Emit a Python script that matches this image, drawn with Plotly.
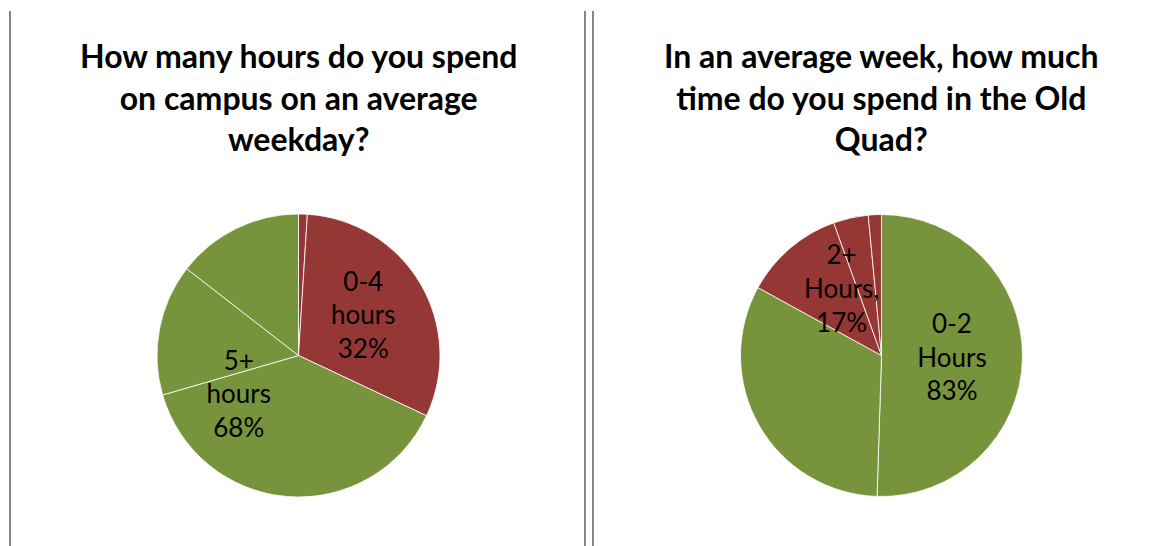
import math
import plotly.graph_objects as go

# Left chart: hours on campus (slices clockwise from top)
left_slice_values = [1, 31, 38.5, 15, 14.5]
left_slice_groups = ["0-4", "0-4", "5+", "5+", "5+"]
left_group_labels = ["0-4<br>hours<br>32%", "5+<br>hours<br>68%"]
left_group_values = [32, 68]

# Right chart: time in the Old Quad
right_slice_values = [50.5, 32.5, 11.5, 4, 1.5]
right_slice_groups = ["0-2", "0-2", "2+", "2+", "2+"]
right_group_labels = ["0-2<br>Hours<br>83%", "2+<br>Hours,<br>17%"]
right_group_values = [83, 17]

left_title = "How many hours do you spend<br>on campus on an average<br>weekday?"
right_title = "In an average week, how much<br>time do you spend in the Old<br>Quad?"

RED = "#953735"
GREEN = "#77933C"
group_color = {"0-4": RED, "5+": GREEN, "0-2": GREEN, "2+": RED}
LABEL_FONT = dict(family="Lato", size=26, color="black")

W, H = 1160, 546
def dom_x(cx, r):
    return [(cx - r) / W, (cx + r) / W]
def dom_y(cy, r):
    return [1 - (cy + r) / H, 1 - (cy - r) / H]

fig = go.Figure()

def slice_pie(values, groups, cx, cy, r, text=None):
    fig.add_trace(go.Pie(
        values=values, labels=[f"s{i}" for i in range(len(values))],
        sort=False, direction="clockwise", rotation=0,
        marker=dict(colors=[group_color[g] for g in groups],
                    line=dict(color="white", width=0.8)),
        text=text if text else [""] * len(values),
        textinfo="text" if text else "none", textposition="inside",
        insidetextorientation="horizontal", textfont=LABEL_FONT,
        showlegend=False, hoverinfo="skip",
        domain=dict(x=dom_x(cx, r), y=dom_y(cy, r))))

# Left pie: slices + transparent group pie carrying the two labels
slice_pie(left_slice_values, left_slice_groups, 298.5, 355.5, 141.5)
fig.add_trace(go.Pie(
    values=left_group_values, labels=["g0", "g1"],
    sort=False, direction="clockwise", rotation=0,
    marker=dict(colors=["rgba(0,0,0,0)"] * 2, line=dict(width=0)),
    text=left_group_labels, textinfo="text", textposition="inside",
    insidetextorientation="horizontal", textfont=LABEL_FONT,
    showlegend=False, hoverinfo="skip",
    domain=dict(x=dom_x(298.5, 141.5), y=dom_y(355.5, 141.5))))

# Right pie: green label on the first slice, red label placed at the group's mid-angle
rcx, rcy, rr = 881.5, 355.5, 141
slice_pie(right_slice_values, right_slice_groups, rcx, rcy, rr,
          text=[right_group_labels[0]] + [""] * (len(right_slice_values) - 1))
start = right_group_values[0] / sum(right_group_values) * 360
mid = start + right_group_values[1] / sum(right_group_values) * 180
dist = 0.56 * rr
fig.add_annotation(text=right_group_labels[1],
                   x=(rcx + dist * math.sin(math.radians(mid))) / W,
                   y=1 - (rcy - dist * math.cos(math.radians(mid))) / H,
                   xref="paper", yref="paper", showarrow=False,
                   xanchor="center", yanchor="middle", font=LABEL_FONT)

TITLE_FONT = dict(family="Lato", size=32, color="black", weight="bold")
fig.add_annotation(text=left_title, x=298 / W, y=1 - 97 / H, xref="paper", yref="paper",
                   showarrow=False, xanchor="center", yanchor="middle", font=TITLE_FONT)
fig.add_annotation(text=right_title, x=881 / W, y=1 - 97 / H, xref="paper", yref="paper",
                   showarrow=False, xanchor="center", yanchor="middle", font=TITLE_FONT)

for x in [10, 585, 593]:
    fig.add_shape(type="line", xref="paper", yref="paper",
                  x0=x / W, x1=x / W, y0=0, y1=1 - 11 / H,
                  line=dict(color="#868686", width=2))

fig.update_layout(width=W, height=H, margin=dict(l=0, r=0, t=0, b=0),
                  paper_bgcolor="white", plot_bgcolor="white")
fig.write_html("out.html")
